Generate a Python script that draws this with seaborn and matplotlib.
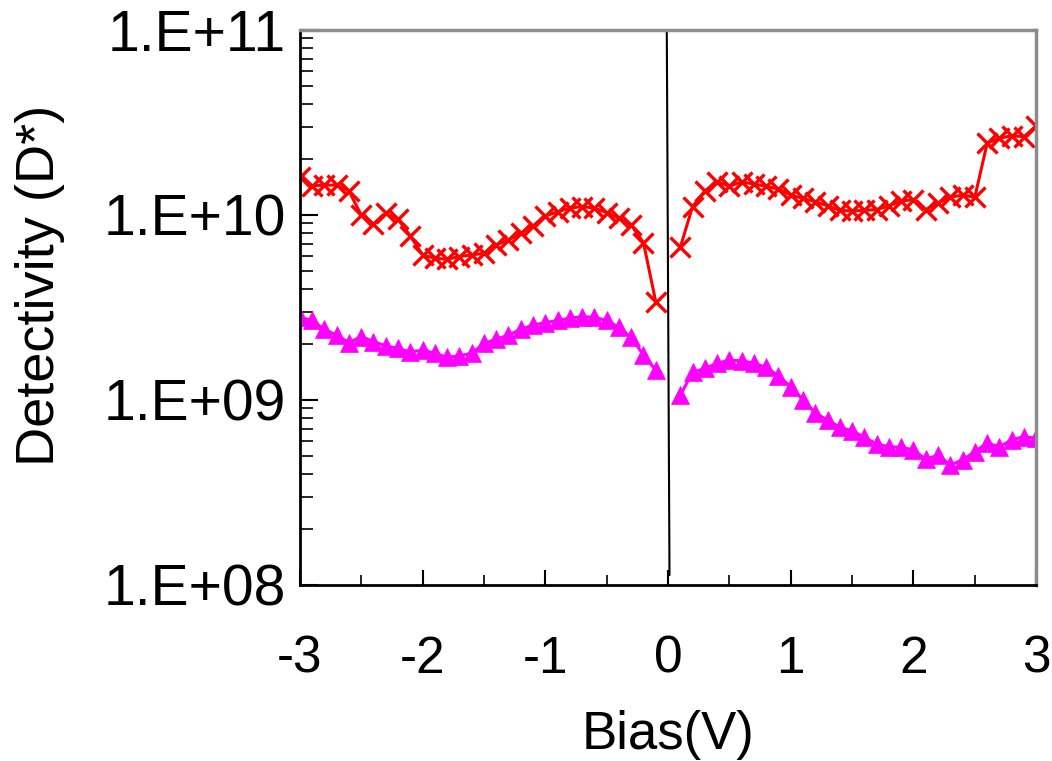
import numpy as np
import pandas as pd
import matplotlib
matplotlib.use("Agg")
import matplotlib.pyplot as plt
import seaborn as sns
from matplotlib.ticker import FixedLocator, FuncFormatter, LogLocator, NullFormatter

# bias steps, 0.1 V, negative and positive branches
bias_neg = [round(-3.0 + 0.1 * i, 1) for i in range(30)]
bias_pos = [round(0.1 + 0.1 * i, 1) for i in range(30)]

# red crosses (D*)
red_neg = [1.60e10, 1.44e10, 1.45e10, 1.45e10, 1.35e10, 1.00e10, 8.94e9, 1.02e10, 9.48e9, 7.70e9,
           6.08e9, 5.83e9, 5.76e9, 5.96e9, 6.08e9, 6.21e9, 6.89e9, 7.33e9, 7.97e9, 8.73e9,
           9.88e9, 1.04e10, 1.09e10, 1.11e10, 1.09e10, 1.03e10, 9.59e9, 8.83e9, 7.08e9, 3.40e9]
red_pos = [6.69e9, 1.11e10, 1.35e10, 1.51e10, 1.43e10, 1.51e10, 1.47e10, 1.43e10, 1.38e10, 1.28e10,
           1.23e10, 1.18e10, 1.12e10, 1.06e10, 1.05e10, 1.06e10, 1.07e10, 1.12e10, 1.19e10, 1.21e10,
           1.07e10, 1.16e10, 1.25e10, 1.28e10, 1.25e10, 2.44e10, 2.60e10, 2.68e10, 2.65e10, 3.03e10]

# magenta triangles (D*)
mag_neg = [2.80e9, 2.69e9, 2.41e9, 2.24e9, 2.04e9, 2.20e9, 2.07e9, 1.96e9, 1.90e9, 1.82e9,
           1.86e9, 1.79e9, 1.70e9, 1.73e9, 1.79e9, 2.02e9, 2.13e9, 2.24e9, 2.41e9, 2.54e9,
           2.62e9, 2.69e9, 2.77e9, 2.82e9, 2.80e9, 2.69e9, 2.47e9, 2.18e9, 1.75e9, 1.45e9]
mag_pos = [1.06e9, 1.41e9, 1.48e9, 1.58e9, 1.64e9, 1.63e9, 1.58e9, 1.50e9, 1.35e9, 1.18e9,
           1.00e9, 8.47e8, 7.80e8, 7.12e8, 6.82e8, 6.28e8, 5.78e8, 5.59e8, 5.55e8, 5.37e8,
           4.78e8, 5.04e8, 4.45e8, 4.74e8, 5.26e8, 5.84e8, 5.59e8, 6.08e8, 6.34e8, 6.21e8]

xticks = [-3, -2, -1, 0, 1, 2, 3]
yticks = [1e8, 1e9, 1e10, 1e11]
ytick_labels = ["1.E+08", "1.E+09", "1.E+10", "1.E+11"]


def branch_frame(neg, pos):
    return pd.DataFrame({
        "bias": bias_neg + bias_pos,
        "D": neg + pos,
        "side": ["neg"] * len(neg) + ["pos"] * len(pos),
    })


red_df = branch_frame(red_neg, red_pos)
mag_df = branch_frame(mag_neg, mag_pos)

sns.set_style("ticks")
plt.rcParams["font.family"] = ["Liberation Sans", "DejaVu Sans"]

fig = plt.figure(figsize=(10.52, 7.61), dpi=100)
ax = fig.add_axes([0.285, 0.2313, 0.7, 0.7293])

sns.lineplot(data=red_df, x="bias", y="D", units="side", estimator=None, sort=False,
             color="#ff0000", marker="x", markersize=14, mew=2.4, mec="#ff0000",
             linewidth=2.2, ax=ax)
sns.lineplot(data=mag_df, x="bias", y="D", units="side", estimator=None, sort=False,
             color="#ff00ff", marker="^", markersize=13.5, mew=0.5, mec="#ff00ff",
             linewidth=2.2, ax=ax)

# zero-bias line
ax.plot([-0.01, 0.012], [1e11, 1.13e8], color="black", linewidth=1.5)

ax.set_yscale("log")
ax.set_xlim(-3, 3)
ax.set_ylim(1e8, 1e11)

ax.xaxis.set_major_locator(FixedLocator(xticks))
ax.xaxis.set_minor_locator(FixedLocator([-2.5, -1.5, -0.5, 0.5, 1.5, 2.5]))
ax.xaxis.set_major_formatter(FuncFormatter(lambda v, p: "%d" % v))
ax.yaxis.set_major_locator(FixedLocator(yticks))
ax.yaxis.set_major_formatter(FuncFormatter(lambda v, p: ytick_labels[yticks.index(v)] if v in yticks else ""))
ax.yaxis.set_minor_locator(LogLocator(base=10, subs=np.arange(2, 10), numticks=20))
ax.yaxis.set_minor_formatter(NullFormatter())

ax.tick_params(axis="both", which="both", direction="in", colors="black")
ax.tick_params(axis="x", which="major", length=11, width=1.5, pad=36, top=False, labelsize=37)
ax.tick_params(axis="x", which="minor", length=7, width=1.2, top=False)
ax.tick_params(axis="y", which="major", length=13, width=1.5, pad=10, right=False, labelsize=41)
ax.tick_params(axis="y", which="minor", length=9, width=1.2, right=False)

ax.set_xlabel("Bias(V)", fontsize=38, labelpad=19, color="black")
ax.set_ylabel("Detectivity (D*)", fontsize=39, labelpad=28, color="black")
ax.yaxis.label.set_y(0.54)

for side in ["left", "bottom"]:
    ax.spines[side].set_color("black")
    ax.spines[side].set_linewidth(2)
for side in ["top", "right"]:
    ax.spines[side].set_visible(True)
    ax.spines[side].set_color("#8c8c8c")
    ax.spines[side].set_linewidth(2.5)

if ax.get_legend() is not None:
    ax.get_legend().remove()

fig.savefig("out.png", dpi=100)
